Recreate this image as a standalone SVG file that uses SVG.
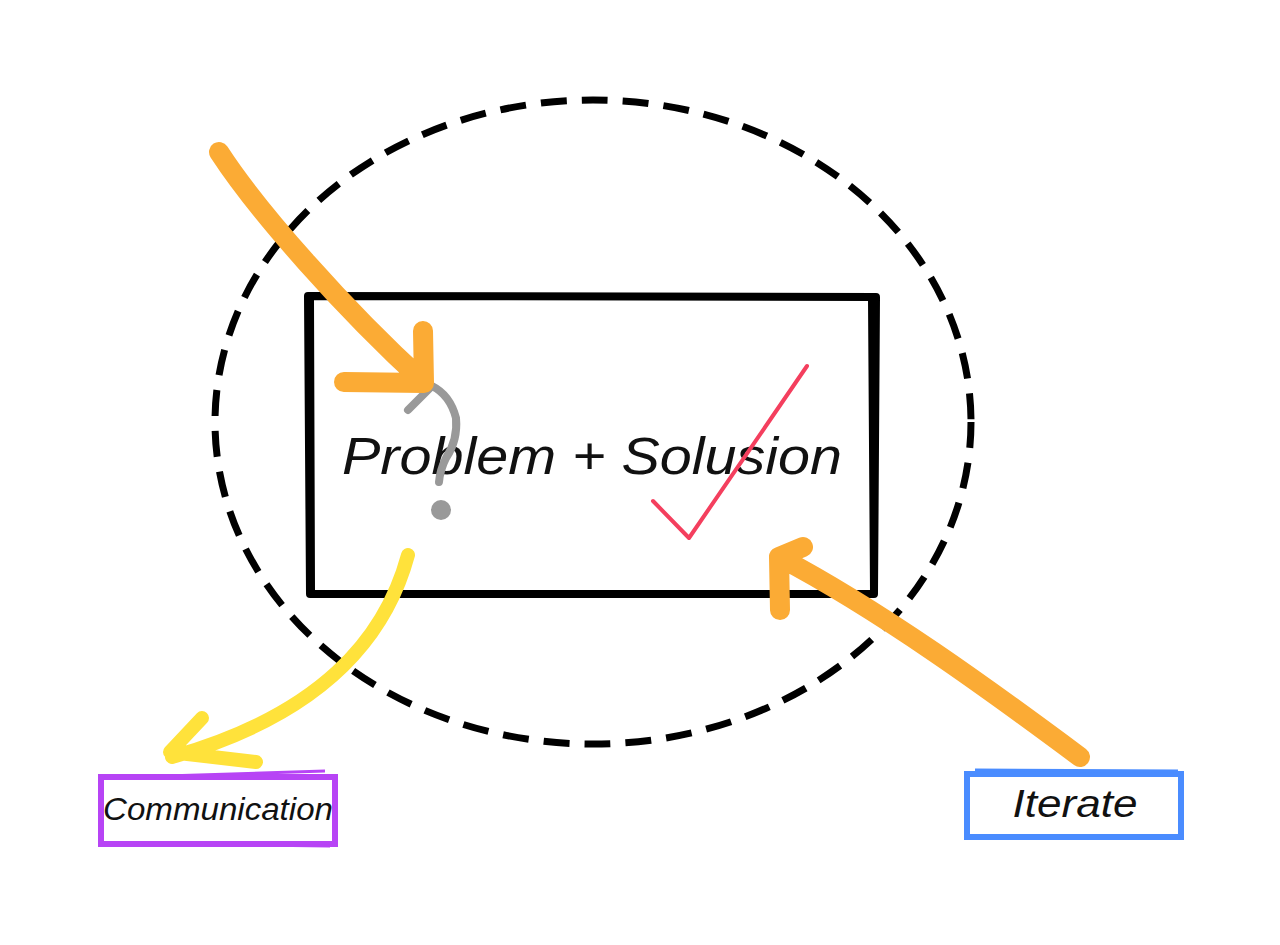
<svg xmlns="http://www.w3.org/2000/svg" width="1280" height="945" viewBox="0 0 1280 945">
<style>
.lbl{font-family:"Liberation Sans",Arial,sans-serif;font-style:italic;fill:#111;text-anchor:middle}
.arr{fill:none;stroke-linecap:round;stroke-linejoin:round}
</style>
<rect width="1280" height="945" fill="#fff"/>
<g id="scope">
<ellipse cx="593" cy="422" rx="378" ry="322" fill="none" stroke="#000" stroke-width="7" stroke-dasharray="26 15"/>
</g>
<g id="main">
<path d="M308,296 L876,297 L874,594 L310,594 Z" fill="none" stroke="#000" stroke-width="8" stroke-linejoin="round"/>
<path d="M312,300 L313,590 M870,300 L872,592" fill="none" stroke="#000" stroke-width="4"/>
<text class="lbl" x="592" y="474" font-size="52" textLength="500" lengthAdjust="spacingAndGlyphs">Problem + Solusion</text>
</g>
<g id="question">
<path d="M408,410 L432,386 Q450,395 456,418 Q458,440 446,458 Q440,470 439,482" class="arr" stroke="#999" stroke-width="8"/>
<circle cx="441" cy="510" r="10" fill="#999"/>
</g>
<g id="check">
<path d="M653,501 L689,538 L807,366" class="arr" stroke="#f43f5e" stroke-width="4"/>
</g>
<g id="communication">
<rect x="101" y="777" width="234" height="67" fill="none" stroke="#b744f5" stroke-width="6"/>
<path d="M100,778 L325,771 M104,843 L330,846" fill="none" stroke="#b744f5" stroke-width="3"/>
<text class="lbl" x="218" y="820" font-size="31" textLength="230" lengthAdjust="spacingAndGlyphs">Communication</text>
</g>
<g id="iterate">
<rect x="967" y="774" width="214" height="63" fill="none" stroke="#4a8cff" stroke-width="6"/>
<path d="M975,770 L1178,771 M964,838 L1182,838" fill="none" stroke="#4a8cff" stroke-width="3"/>
<text class="lbl" x="1075" y="817" font-size="38" textLength="125" lengthAdjust="spacingAndGlyphs">Iterate</text>
</g>
<g id="connectors">
<path d="M219,152 C258,212 345,310 424,382 M344,382 L424,383 L423,331" class="arr" stroke="#fbab35" stroke-width="20"/>
<path d="M1080,757 C990,690 880,610 779,557 M803,547 L779,557 L780,610" class="arr" stroke="#fbab35" stroke-width="20"/>
<path d="M408,555 C385,640 320,715 172,757 M202,718 L170,752 L256,762" class="arr" stroke="#ffe23b" stroke-width="14"/>
</g>
</svg>
